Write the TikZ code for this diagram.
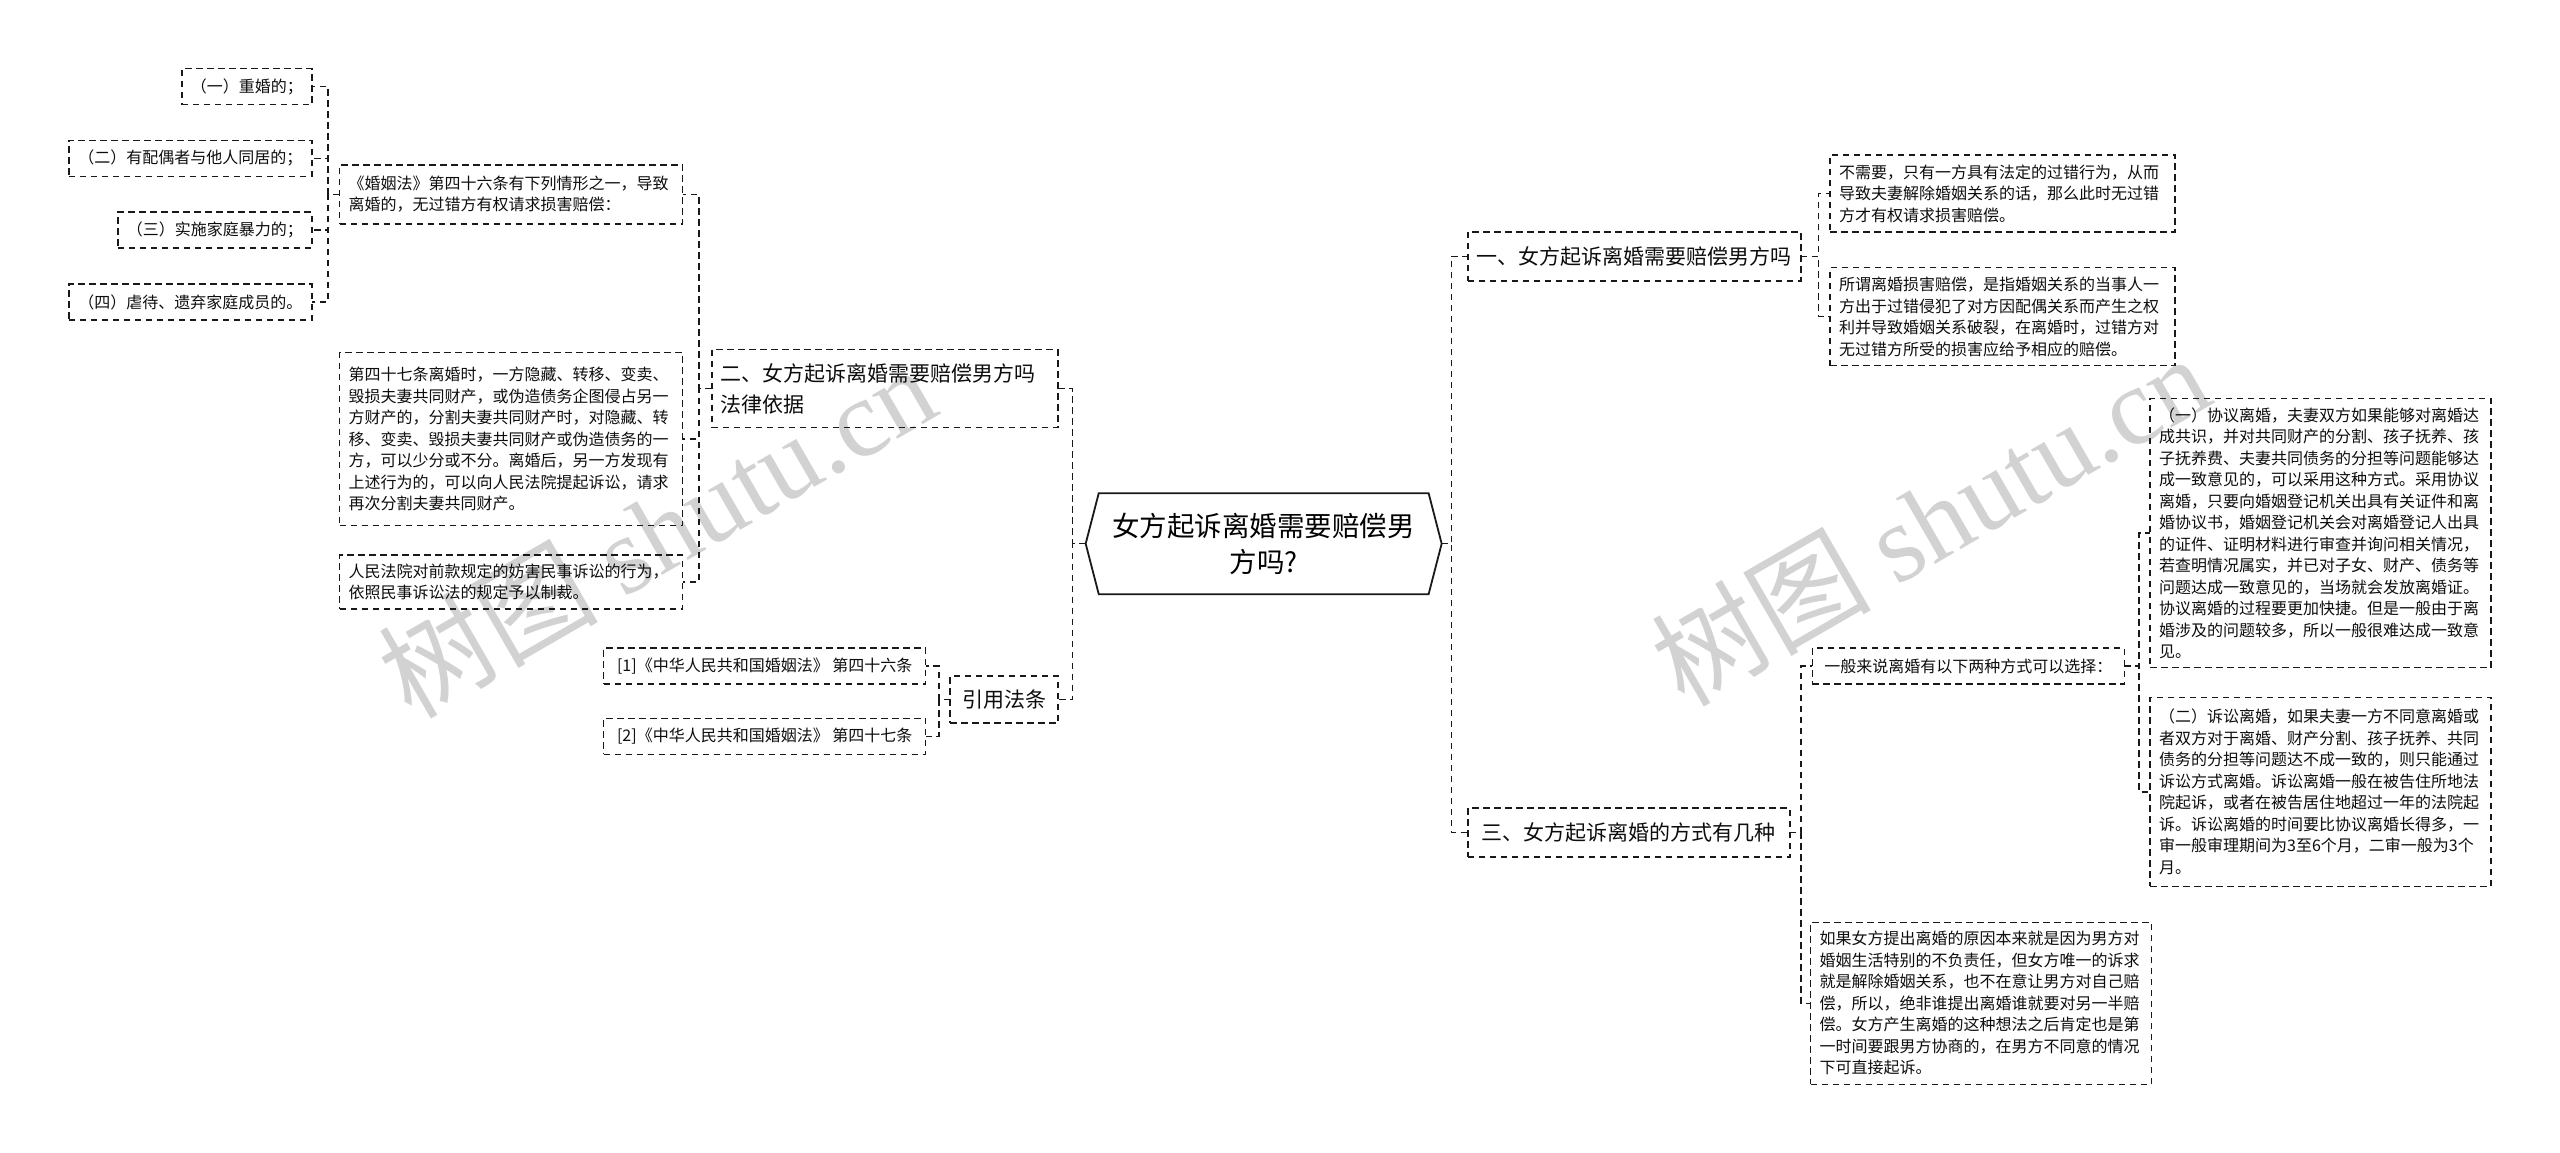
\documentclass[tikz,border=0pt]{standalone}
\usepackage{fontspec}
\setmainfont{Noto Sans CJK SC}
\newfontfamily\wmlatin{Liberation Serif}
\usetikzlibrary{calc}
\begin{document}
\begin{tikzpicture}[x=1.6327pt,y=-1.6327pt,
  every node/.style={inner sep=0pt, outer sep=0pt},
  box/.style={draw=black!90, line width=1.5pt, dash pattern=on 6.5pt off 4.5pt, text=black!95, font=\fontsize{16}{21.5}\selectfont, inner xsep=9pt, inner ysep=0pt},
  para/.style={box, align=left},
  topic/.style={box, font=\fontsize{21}{31}\selectfont},
  conn/.style={draw=black!90, line width=1.5pt, dash pattern=on 6.5pt off 4.5pt},
  wm/.style={text=gray!35, rotate=30, font=\fontsize{110}{110}\selectfont}
]
\useasboundingbox (0,0) rectangle (1568,706);

% watermarks
\node[wm] (wm1) at (402,325) {树图 {\wmlatin shutu.cn}};
\node[wm] (wm2) at (1182,318) {树图 {\wmlatin shutu.cn}};

% centre
\node[minimum width=356pt, minimum height=101pt, align=center, font=\fontsize{27.5}{36}\selectfont, text=black] (c) at (774,333) {女方起诉离婚需要赔偿男\\方吗?};
\draw[line width=1.8pt, black!90] (c.west) -- ($(c.north west)+(8,0)$) -- ($(c.north east)+(-8,0)$) -- (c.east) -- ($(c.south east)+(-8,0)$) -- ($(c.south west)+(8,0)$) -- cycle;

% left branch
\node[topic, align=left, text width=328pt, minimum height=78pt, anchor=west] (n2) at (436,238) {二、女方起诉离婚需要赔偿男方吗\\法律依据};
\node[topic, minimum width=108pt, minimum height=47pt, anchor=west] (cite) at (582,428.5) {引用法条};

\node[para, text width=325pt, minimum height=59pt, anchor=west] (law46) at (208,119) {《婚姻法》第四十六条有下列情形之一，导致\\离婚的，无过错方有权请求损害赔偿：};
\node[para, text width=325pt, minimum height=173pt, anchor=west] (law47) at (208,269) {第四十七条离婚时，一方隐藏、转移、变卖、\\毁损夫妻共同财产，或伪造债务企图侵占另一\\方财产的，分割夫妻共同财产时，对隐藏、转\\移、变卖、毁损夫妻共同财产或伪造债务的一\\方，可以少分或不分。离婚后，另一方发现有\\上述行为的，可以向人民法院提起诉讼，请求\\再次分割夫妻共同财产。};
\node[para, text width=325pt, minimum height=54pt, anchor=west] (court) at (208,356.5) {人民法院对前款规定的妨害民事诉讼的行为，\\依照民事诉讼法的规定予以制裁。};

\node[box, minimum width=129pt, minimum height=36pt, anchor=east] (c1) at (191,53) {（一）重婚的；};
\node[box, minimum width=243pt, minimum height=36pt, anchor=east] (c2) at (191,97) {（二）有配偶者与他人同居的；};
\node[box, minimum width=194pt, minimum height=36pt, anchor=east] (c3) at (191,141) {（三）实施家庭暴力的；};
\node[box, minimum width=243pt, minimum height=36pt, anchor=east] (c4) at (191,185) {（四）虐待、遗弃家庭成员的。};

\node[box, minimum width=322pt, minimum height=36pt, anchor=east] (r1) at (567,408) {[1]《中华人民共和国婚姻法》 第四十六条};
\node[box, minimum width=322pt, minimum height=36pt, anchor=east] (r2) at (567,451) {[2]《中华人民共和国婚姻法》 第四十七条};

% right branch
\node[topic, minimum width=333pt, minimum height=49pt, anchor=west] (n1) at (899,157) {一、女方起诉离婚需要赔偿男方吗};
\node[topic, minimum width=322pt, minimum height=49pt, anchor=west] (n3) at (899,510) {三、女方起诉离婚的方式有几种};

\node[para, text width=327pt, minimum height=77pt, anchor=west] (a1) at (1121,118.5) {不需要，只有一方具有法定的过错行为，从而\\导致夫妻解除婚姻关系的话，那么此时无过错\\方才有权请求损害赔偿。};
\node[para, text width=327pt, minimum height=98pt, anchor=west] (a2) at (1121,194) {所谓离婚损害赔偿，是指婚姻关系的当事人一\\方出于过错侵犯了对方因配偶关系而产生之权\\利并导致婚姻关系破裂，在离婚时，过错方对\\无过错方所受的损害应给予相应的赔偿。};

\node[box, minimum width=312pt, minimum height=36pt, anchor=west] (b1) at (1110,408) {一般来说离婚有以下两种方式可以选择：};
\node[para, text width=323pt, minimum height=162pt, anchor=west] (b3) at (1109,614.5) {如果女方提出离婚的原因本来就是因为男方对\\婚姻生活特别的不负责任，但女方唯一的诉求\\就是解除婚姻关系，也不在意让男方对自己赔\\偿，所以，绝非谁提出离婚谁就要对另一半赔\\偿。女方产生离婚的这种想法之后肯定也是第\\一时间要跟男方协商的，在男方不同意的情况\\下可直接起诉。};

\node[para, text width=323pt, minimum height=269pt, anchor=west] (d1) at (1317,326.5) {（一）协议离婚，夫妻双方如果能够对离婚达\\成共识，并对共同财产的分割、孩子抚养、孩\\子抚养费、夫妻共同债务的分担等问题能够达\\成一致意见的，可以采用这种方式。采用协议\\离婚，只要向婚姻登记机关出具有关证件和离\\婚协议书，婚姻登记机关会对离婚登记人出具\\的证件、证明材料进行审查并询问相关情况，\\若查明情况属实，并已对子女、财产、债务等\\问题达成一致意见的，当场就会发放离婚证。\\协议离婚的过程要更加快捷。但是一般由于离\\婚涉及的问题较多，所以一般很难达成一致意\\见。};
\node[para, text width=323pt, minimum height=189pt, anchor=west] (d2) at (1317,485) {（二）诉讼离婚，如果夫妻一方不同意离婚或\\者双方对于离婚、财产分割、孩子抚养、共同\\债务的分担等问题达不成一致的，则只能通过\\诉讼方式离婚。诉讼离婚一般在被告住所地法\\院起诉，或者在被告居住地超过一年的法院起\\诉。诉讼离婚的时间要比协议离婚长得多，一\\审一般审理期间为3至6个月，二审一般为3个\\月。};

% connectors
\foreach \k in {n2,cite} \draw[conn] (c.west) -- ++(-8,0) |- (\k.east);
\foreach \k in {law46,law47,court} \draw[conn] (n2.west) -- ++(-8,0) |- (\k.east);
\foreach \k in {c1,c2,c3,c4} \draw[conn] (law46.west) -- ++(-7,0) |- (\k.east);
\foreach \k in {r1,r2} \draw[conn] (cite.west) -- ++(-7,0) |- (\k.east);
\foreach \k in {n1,n3} \draw[conn] (c.east) -- ++(6,0) |- (\k.west);
\foreach \k in {a1,a2} \draw[conn] (n1.east) -- ++(11,0) |- (\k.west);
\foreach \k in {b1,b3} \draw[conn] (n3.east) -- ++(7,0) |- (\k.west);
\foreach \k in {d1,d2} \draw[conn] (b1.east) -- ++(9,0) |- (\k.west);
\end{tikzpicture}
\end{document}
